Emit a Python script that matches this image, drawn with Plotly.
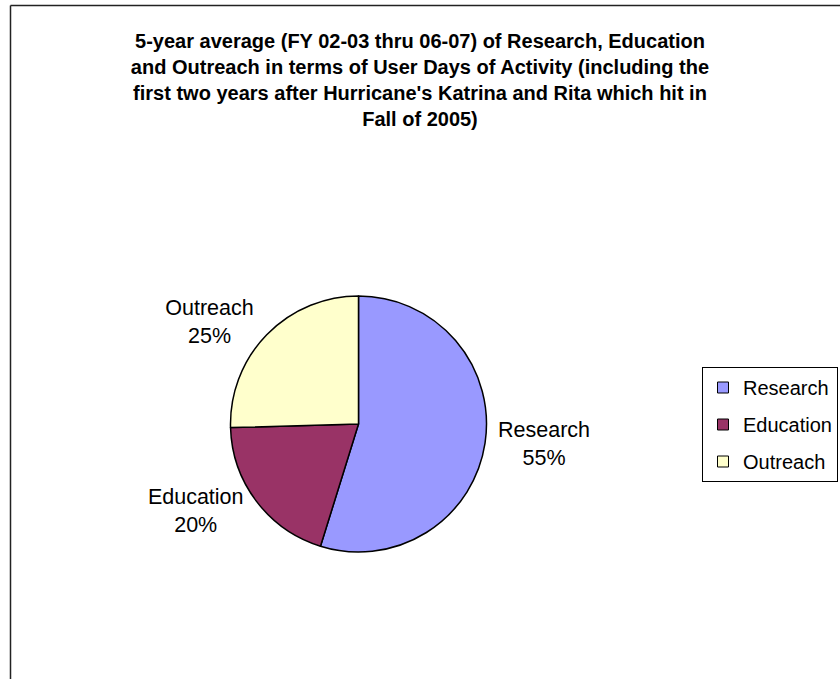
import plotly.graph_objects as go

# ---- data ----
categories = ["Research", "Education", "Outreach"]
shares = [54.8, 19.75, 25.45]
colors = ["#9999FF", "#993366", "#FFFFCC"]
title_lines = [
    "5-year average (FY 02-03 thru 06-07) of Research, Education",
    "and Outreach in terms of User Days of Activity (including the",
    "first two years after Hurricane's Katrina and Rita which hit in",
    "Fall of 2005)",
]

W, H = 840, 679
FONT = "Liberation Sans, Arial, sans-serif"
LABEL_SIZE = 21.5
LEGEND_SIZE = 20

fig = go.Figure()

# pie (center ~ (358,424) px, radius ~128 px)
cx, cy, r = 358.5, 424.0, 128.0
fig.add_trace(go.Pie(
    labels=categories,
    values=shares,
    sort=False,
    direction="clockwise",
    rotation=0,
    marker=dict(colors=colors, line=dict(color="#000000", width=1.5)),
    textposition="outside",
    texttemplate="%{label}<br>%{percent:.0%}",
    textfont=dict(family=FONT, size=LABEL_SIZE, color="#000000"),
    showlegend=False,
    domain=dict(x=[(cx - r) / W, (cx + r) / W],
                y=[(H - cy - r) / H, (H - cy + r) / H]),
    hoverinfo="label+percent",
))

# legend entries (one group each so the row spacing can be set)
for name, col in zip(categories, colors):
    fig.add_trace(go.Scatter(
        x=[None], y=[None], mode="markers", name=name,
        legendgroup=name,
        marker=dict(symbol="square", size=11, color=col,
                    line=dict(color="#000000", width=1)),
        showlegend=True, hoverinfo="skip",
    ))

# chart-area border (left and top edges visible)
bx, by = 10.5 / W, 1 - 5.5 / H
fig.add_shape(type="line", xref="paper", yref="paper",
              x0=bx, x1=bx, y0=-0.1, y1=by,
              line=dict(color="#222222", width=1.5))
fig.add_shape(type="line", xref="paper", yref="paper",
              x0=bx, x1=1.1, y0=by, y1=by,
              line=dict(color="#222222", width=1.5))

fig.update_layout(
    width=W, height=H,
    margin=dict(l=0, r=0, t=0, b=0, autoexpand=False),
    paper_bgcolor="white", plot_bgcolor="white",
    font=dict(family=FONT, size=LABEL_SIZE, color="#000000"),
    title=dict(
        text="<br>".join(title_lines),
        font=dict(family=FONT, size=20, color="#000000", weight="bold"),
        x=0.5, xanchor="center", xref="paper",
        y=1 - 48 / H, yanchor="top", yref="container",
    ),
    xaxis=dict(visible=False),
    yaxis=dict(visible=False),
    legend=dict(
        x=702 / W, xanchor="left",
        y=1 - 367 / H, yanchor="top",
        bordercolor="#000000", borderwidth=1, bgcolor="white",
        font=dict(family=FONT, size=LEGEND_SIZE, color="#000000"),
        tracegroupgap=8, traceorder="grouped",
        entrywidth=130, entrywidthmode="pixels",
        itemclick=False, itemdoubleclick=False,
    ),
    showlegend=True,
)

fig.write_html(
    "out.html",
    config={"displayModeBar": False},
    post_script="document.body.style.margin='0';document.body.style.overflow='hidden';",
)
